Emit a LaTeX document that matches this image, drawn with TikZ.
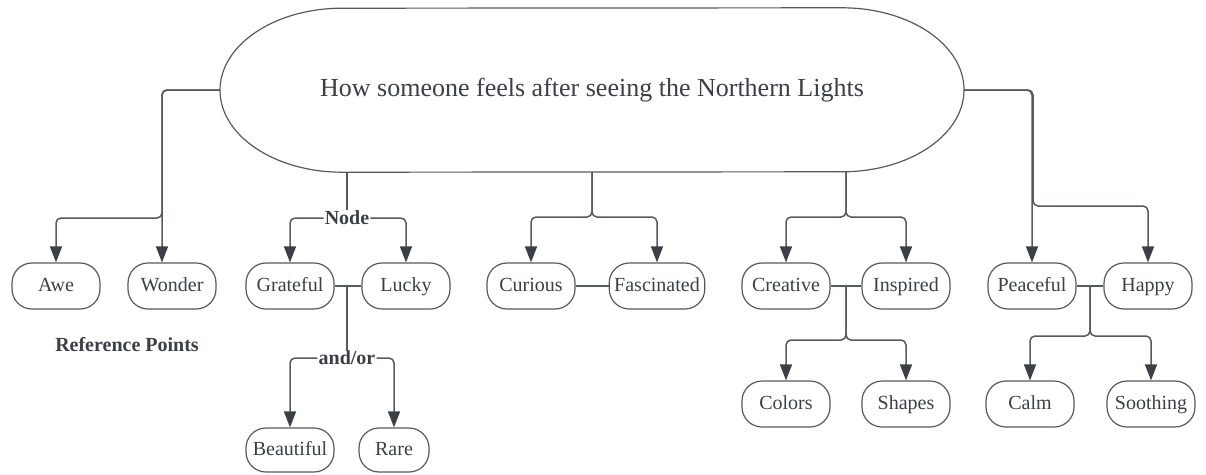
\documentclass[tikz,border=0pt]{standalone}
\usepackage{fontspec}
\setmainfont{Liberation Serif}
\usepackage{xcolor}
\usepackage{tikz}
\usetikzlibrary{arrows.meta, positioning}

\definecolor{inkgray}{HTML}{3B3F46}
\definecolor{wiregray}{HTML}{555A62}

\begin{document}
\begin{tikzpicture}[
    x=1pt, y=-1pt,
    feelnode/.style = {draw=wiregray, line width=1.2pt, rounded corners=20pt, minimum width=88pt, minimum height=46pt, inner xsep=5pt, text height=14pt, text depth=3pt, font=\fontsize{20}{23}\selectfont, text=inkgray},
    topicnode/.style = {minimum width=744pt, minimum height=164pt, font=\fontsize{26}{30}\selectfont, text=inkgray},
    linklabel/.style = {inner sep=1pt, font=\fontsize{20}{23}\selectfont\bfseries, text=inkgray},
    wire/.style = {draw=wiregray, line width=1.5pt, rounded corners=5pt},
    arrowwire/.style = {wire, -{Triangle[width=12pt, length=16pt, color=inkgray]}}
]
\useasboundingbox (0,0) rectangle (1206,474);

% central topic
\node [topicnode] (topic) at (592,90) {How someone feels after seeing the Northern Lights};
\draw [draw=wiregray, line width=1.2pt] ([xshift=250pt]topic.north)
    arc[start angle=90, end angle=-90, x radius=122pt, y radius=82pt]
    -- ([xshift=-250pt]topic.south)
    arc[start angle=270, end angle=90, x radius=122pt, y radius=82pt] -- cycle;

% feelings
\node [feelnode] (awe) at (56,286) {Awe};
\node [feelnode] (wonder) at (172,286) {Wonder};
\node [feelnode] (grateful) at (290,286) {Grateful};
\node [feelnode] (lucky) at (406,286) {Lucky};
\node [feelnode] (curious) at (531,286) {Curious};
\node [feelnode] (fascinated) at (657,286) {Fascinated};
\node [feelnode] (creative) at (786,286) {Creative};
\node [feelnode] (inspired) at (906,286) {Inspired};
\node [feelnode] (peaceful) at (1032,286) {Peaceful};
\node [feelnode] (happy) at (1148,286) {Happy};
\node [feelnode] (colors) at (786,404) {Colors};
\node [feelnode] (shapes) at (906,404) {Shapes};
\node [feelnode] (calm) at (1030,404) {Calm};
\node [feelnode] (soothing) at (1151,404) {Soothing};
\node [feelnode, minimum height=44pt] (beautiful) at (290,450) {Beautiful};
\node [feelnode, minimum height=44pt, minimum width=70pt] (rare) at (394,450) {Rare};

% labels
\node [linklabel] (nodelbl) at (347,218) {Node};
\node [linklabel] (andor) at (347,358) {and/or};
\node [linklabel] (refpoints) at (127,345) {Reference Points};

% split points
\coordinate (leftsplit) at (162,218);
\coordinate (midsplit) at (592,217);
\coordinate (creasplit) at (846,217);
\coordinate (shapesplit) at (846,340);
\coordinate (rightsplit) at (1033,206);
\coordinate (calmsplit) at (1090,336);

% left branch
\draw [arrowwire] (topic.west) -| ([xshift=-10pt]wonder.north);
\draw [arrowwire] (topic.west) -| (leftsplit) -| (awe.north);

% Node branch
\draw [wire] (nodelbl |- topic.south) -- (nodelbl.north);
\draw [arrowwire] (nodelbl.west) -| (grateful.north);
\draw [arrowwire] (nodelbl.east) -| (lucky.north);
\draw [wire] (grateful.east) -- (lucky.west);
\draw [wire] (andor |- grateful.east) -- (andor.north);
\draw [arrowwire] (andor.west) -| (beautiful.north);
\draw [arrowwire] (andor.east) -| (rare.north);

% middle branch
\draw [arrowwire] (topic.south) -- (midsplit) -| (curious.north);
\draw [arrowwire] (topic.south) -- (midsplit) -| (fascinated.north);
\draw [wire] (curious.east) -- (fascinated.west);

% creative branch
\draw [arrowwire] (creasplit |- topic.south) -- (creasplit) -| (creative.north);
\draw [arrowwire] (creasplit |- topic.south) -- (creasplit) -| (inspired.north);
\draw [wire] (creative.east) -- (inspired.west);
\draw [arrowwire] (shapesplit |- creative.east) -- (shapesplit) -| (colors.north);
\draw [arrowwire] (shapesplit |- creative.east) -- (shapesplit) -| (shapes.north);

% right branch
\draw [arrowwire] (topic.east) -| (peaceful.north);
\draw [arrowwire] (topic.east) -| (rightsplit) -| (happy.north);
\draw [wire] (peaceful.east) -- (happy.west);
\draw [arrowwire] (calmsplit |- peaceful.east) -- (calmsplit) -| (calm.north);
\draw [arrowwire] (calmsplit |- peaceful.east) -- (calmsplit) -| (soothing.north);

\end{tikzpicture}
\end{document}
